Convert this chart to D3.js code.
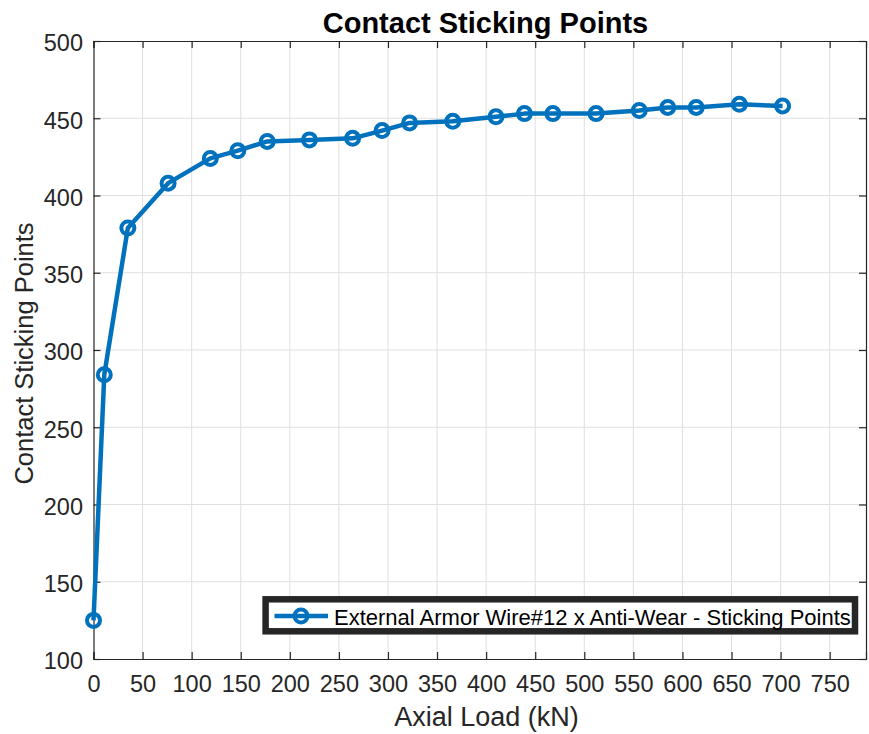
<!DOCTYPE html>
<html><head><meta charset="utf-8">
<script src="https://cdn.jsdelivr.net/npm/d3@7"></script>
<style>body{margin:0;background:#fff}text{font-family:"Liberation Sans",Arial,Helvetica,sans-serif}</style>
</head><body><svg id="c" width="869" height="734"></svg>
<script>
const axialLoad = [0, 11, 35, 76, 119, 147, 177, 220, 264, 294, 322, 366, 410, 439, 468, 512, 556, 585, 614, 658, 702];
const stickingPoints = [125, 284, 379, 408, 424, 429, 435, 436, 437, 442, 447, 448, 451, 453, 453, 453, 455, 457, 457, 459, 458];
const xTicks = [0,50,100,150,200,250,300,350,400,450,500,550,600,650,700,750];
const yTicks = [100,150,200,250,300,350,400,450,500];
const seriesName = "External Armor Wire#12 x Anti-Wear - Sticking Points";
const titleText = "Contact Sticking Points";
const xLabel = "Axial Load (kN)";
const yLabel = "Contact Sticking Points";

const L=93.5, R=866, T=41, B=659;
const svg=d3.select("#c");
const x=d3.scaleLinear().domain([0,787]).range([L,R]);
const y=d3.scaleLinear().domain([100,500]).range([B,T]);
const blue="#0072BD", axc="#262626";

// grid
const g=svg.append("g");
g.selectAll(".gx").data(xTicks.filter(d=>d>0)).join("line")
 .attr("x1",d=>x(d)).attr("x2",d=>x(d)).attr("y1",T).attr("y2",B)
 .attr("stroke","#dfdfdf").attr("stroke-width",1);
g.selectAll(".gy").data(yTicks.filter(d=>d>100&&d<500)).join("line")
 .attr("y1",d=>y(d)).attr("y2",d=>y(d)).attr("x1",L).attr("x2",R)
 .attr("stroke","#dfdfdf").attr("stroke-width",1);

// axes
const xa=svg.append("g").attr("transform",`translate(0,${B})`)
 .call(d3.axisBottom(x).tickValues(xTicks).tickSize(-7).tickPadding(17).tickFormat(d3.format("d")));
const xt=svg.append("g").attr("transform",`translate(0,${T})`)
 .call(d3.axisTop(x).tickValues(xTicks).tickSize(-7).tickFormat(""));
const ya=svg.append("g").attr("transform",`translate(${L},0)`)
 .call(d3.axisLeft(y).tickValues(yTicks).tickSize(-7).tickPadding(10.5).tickFormat(d3.format("d")));
const yr=svg.append("g").attr("transform",`translate(${R},0)`)
 .call(d3.axisRight(y).tickValues(yTicks).tickSize(-7).tickFormat(""));
[xa,xt,ya,yr].forEach(a=>{
 a.selectAll("path").attr("stroke",axc).attr("stroke-width",1.2);
 a.selectAll("line").attr("stroke",axc).attr("stroke-width",1.2);
 a.selectAll("text").attr("fill",axc).style("font-size","23.5px");
});
ya.selectAll("text").attr("dy","0.42em");
xa.selectAll("text").attr("dy","0.68em");

// line + markers
const line=d3.line().x((d,i)=>x(axialLoad[i])).y(d=>y(d));
svg.append("path").datum(stickingPoints).attr("d",line)
 .attr("fill","none").attr("stroke",blue).attr("stroke-width",4.5).attr("stroke-linejoin","round");
svg.selectAll(".m").data(stickingPoints).join("circle")
 .attr("cx",(d,i)=>x(axialLoad[i])).attr("cy",d=>y(d)).attr("r",6.5)
 .attr("fill","none").attr("stroke",blue).attr("stroke-width",4);

// title & labels
svg.append("text").attr("x",485.5).attr("y",33).attr("text-anchor","middle")
 .style("font-size","29px").style("font-weight","bold").attr("fill","#000").text(titleText);
svg.append("text").attr("x",486.5).attr("y",726).attr("text-anchor","middle")
 .style("font-size","27px").attr("fill",axc).text(xLabel);
svg.append("text").attr("transform",`translate(33,353.5) rotate(-90)`).attr("text-anchor","middle")
 .style("font-size","25.5px").attr("fill",axc).text(yLabel);

// legend
const lg=svg.append("g");
lg.append("rect").attr("x",265.6).attr("y",599.3).attr("width",589.4).attr("height",32)
 .attr("fill","#fff").attr("stroke","#262626").attr("stroke-width",6.5);
lg.append("line").attr("x1",274.5).attr("x2",328).attr("y1",616).attr("y2",616)
 .attr("stroke",blue).attr("stroke-width",4.5);
lg.append("circle").attr("cx",301).attr("cy",616).attr("r",6.5)
 .attr("fill","none").attr("stroke",blue).attr("stroke-width",4);
lg.append("text").attr("x",334).attr("y",625).style("font-size","22px").attr("fill","#000").text(seriesName);
</script></body></html>
